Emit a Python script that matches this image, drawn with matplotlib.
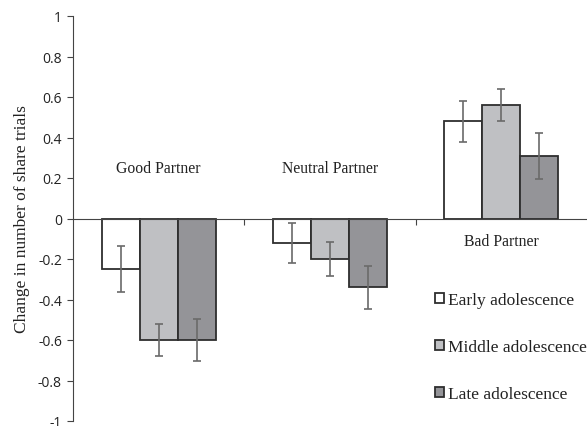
import matplotlib
matplotlib.use("Agg")
import matplotlib.pyplot as plt
import numpy as np

categories = ["Good Partner", "Neutral Partner", "Bad Partner"]
groups = ["Early adolescence", "Middle adolescence", "Late adolescence"]
early = [-0.25, -0.12, 0.48]
middle = [-0.60, -0.20, 0.56]
late = [-0.60, -0.34, 0.31]
early_err = [0.115, 0.10, 0.10]
middle_err = [0.08, 0.083, 0.078]
late_err = [0.105, 0.105, 0.113]
yticks = [1, 0.8, 0.6, 0.4, 0.2, 0, -0.2, -0.4, -0.6, -0.8, -1]
ytick_labels = ["1", "0.8", "0.6", "0.4", "0.2", "0", "-0.2", "-0.4", "-0.6", "-0.8", "-1"]

colors = ["#ffffff", "#bfc0c3", "#949498"]
edge = "#2e2e2e"
errc = "#6a6a6a"
serif = "Liberation Serif"

fig = plt.figure(figsize=(5.87, 4.27), dpi=100)
ax = fig.add_axes([73/587, 1-422/427, 1-73/587, (422-17)/427])

x = np.arange(len(categories))
w = 0.222
series = [early, middle, late]
errs = [early_err, middle_err, late_err]
for i, (vals, e) in enumerate(zip(series, errs)):
    pos = x + (i - 1) * w
    ax.bar(pos, vals, width=w, color=colors[i], edgecolor=edge, linewidth=1.3,
           label=groups[i], zorder=2)
    ax.errorbar(pos, vals, yerr=e, fmt="none", ecolor=errc, elinewidth=1.2,
                capsize=3, capthick=1.2, zorder=3)

ax.set_xlim(-0.5, 2.5)
ax.set_ylim(-1, 1)
ax.set_yticks(yticks)
ax.set_yticklabels(ytick_labels, fontfamily="Open Sans", fontsize=10, color="#222222")
ax.tick_params(axis="y", direction="out", length=4, width=0.8, color="#444444", pad=4)

ax.spines["top"].set_visible(False)
ax.spines["right"].set_visible(False)
ax.spines["bottom"].set_position(("data", 0))
ax.spines["left"].set_color("#444444")
ax.spines["bottom"].set_color("#444444")
ax.set_xticks([0.5, 1.5])
ax.set_xticklabels([])
ax.tick_params(axis="x", direction="out", length=4, width=0.8, color="#444444")

# category labels
label_y = [0.25, 0.25, -0.11]
for xi, (cat, ly) in enumerate(zip(categories, label_y)):
    ax.text(xi, ly, cat, ha="center", va="center", fontfamily=serif,
            fontsize=11.3, color="#222222")

ax.set_ylabel("Change in number of share trials", fontfamily=serif, fontsize=12.5,
              color="#222222", labelpad=6)

leg = ax.legend(loc="upper left", bbox_to_anchor=(435/587, 1-293/427),
                bbox_transform=fig.transFigure, frameon=False,
                prop={"family": serif, "size": 12.5}, handlelength=0.5,
                handleheight=0.5, handletextpad=0.25, labelspacing=1.8,
                borderpad=0, borderaxespad=0)
for t in leg.get_texts():
    t.set_color("#222222")

fig.savefig("out.png", dpi=100)
